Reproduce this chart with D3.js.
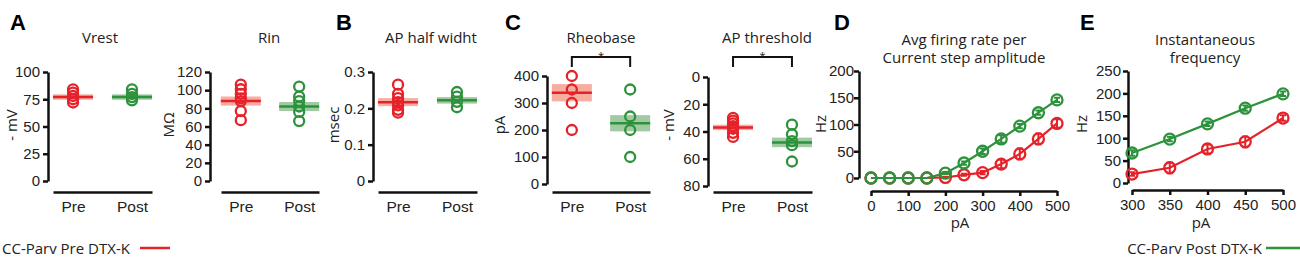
<head>
    <script src="https://d3js.org/d3.v7.min.js"></script>
    <style>
        body { margin: 0; background: #fff; }
        svg { font-family: "Open Sans", "Noto Sans", sans-serif; }
        .tick text { font-size: 15px; fill: #222; }
        .domain, .tick line { stroke: #111; stroke-width: 2.5px; }
    </style>
</head>
<body>
    <script>
        const groups = ['Pre', 'Post']

        const vrestPre = [84, 81, 78, 75, 72]
        const vrestPost = [84, 80, 77, 74]
        const vrestMean = [77, 77]
        const vrestSem = [2.5, 2.5]

        const rinPre = [106, 101, 96, 91, 88, 77, 67]
        const rinPost = [104, 93, 88, 82, 76, 66]
        const rinMean = [88, 82]
        const rinSem = [5, 5]

        const hwPre = [0.265, 0.24, 0.228, 0.217, 0.208, 0.196, 0.188]
        const hwPost = [0.245, 0.232, 0.218, 0.203]
        const hwMean = [0.217, 0.222]
        const hwSem = [0.011, 0.009]

        const rheoPre = [400, 350, 300, 200]
        const rheoPost = [350, 250, 200, 100]
        const rheoMean = [338, 225]
        const rheoSem = [32, 30]

        const thrPre = [30, 32, 34, 36, 38, 41, 44]
        const thrPost = [35, 42, 47, 50, 62]
        const thrMean = [37, 48]
        const thrSem = [2, 3.5]

        const stepsD = [0, 50, 100, 150, 200, 250, 300, 350, 400, 450, 500]
        const firingPre = [0, 0, 0, 0, 1, 6, 10, 26, 45, 73, 102]
        const firingPreErr = [0, 0, 0, 0, 1, 2, 3, 8, 10, 10, 8]
        const firingPost = [0, 0, 0, 0, 9, 28, 50, 73, 97, 122, 146]
        const firingPostErr = [0, 0, 0, 0, 2, 3, 5, 7, 4, 4, 4]

        const stepsE = [300, 350, 400, 450, 500]
        const instPre = [20, 34, 76, 92, 145]
        const instPreErr = [4, 12, 10, 12, 6]
        const instPost = [67, 98, 132, 167, 199]
        const instPostErr = [6, 5, 5, 6, 5]

        const red = '#e5222a'
        const green = '#2d923c'
        const redBand = 'rgba(240, 105, 80, 0.55)'
        const greenBand = 'rgba(70, 150, 70, 0.5)'

        const width = 1300
        const height = 271
        const svg = d3.select('body').append('svg').attr('width', width).attr('height', height)

        function txt(x, y, s, opts) {
            opts = opts || {}
            const t = svg.append('text')
                .attr('x', x).attr('y', y)
                .attr('text-anchor', opts.anchor || 'middle')
                .style('font-size', (opts.size || 15) + 'px')
                .style('fill', '#222')
                .text(s)
            if (opts.bold) t.style('font-weight', 'bold').style('font-family', 'Liberation Sans, Arial, sans-serif').style('fill', '#000')
            if (opts.rotate) t.attr('transform', 'rotate(-90,' + x + ',' + y + ')').attr('dy', '0.35em')
            return t
        }

        // scatter panel with mean line + sem band
        function dotPanel(p) {
            const y = d3.scaleLinear().domain(p.domain).range([p.y0, p.y1])
            const x = d3.scalePoint().domain(groups).range([p.x0, p.x1]).padding(0.34)

            svg.append('g')
                .attr('transform', 'translate(' + p.ax + ',0)')
                .call(d3.axisLeft(y).tickValues(p.ticks).tickSize(5).tickSizeOuter(0).tickPadding(3).tickFormat(p.fmt || d3.format('d')))

            const xa = svg.append('g')
                .attr('transform', 'translate(0,192)')
                .call(d3.axisBottom(x).tickSize(0).tickSizeOuter(0).tickPadding(9))
            xa.selectAll('.tick text').style('font-size', '15.5px')

            const sets = [[p.pre, red, redBand], [p.post, green, greenBand]]
            sets.forEach((s, i) => {
                const cx = x(groups[i])
                svg.append('rect')
                    .attr('x', cx - 20).attr('width', 40)
                    .attr('y', y(p.mean[i] + p.sem[i] * p.dir)).attr('height', Math.abs(y(p.mean[i] + p.sem[i]) - y(p.mean[i] - p.sem[i])))
                    .attr('fill', s[2])
                svg.append('line')
                    .attr('x1', cx - 20).attr('x2', cx + 20)
                    .attr('y1', y(p.mean[i])).attr('y2', y(p.mean[i]))
                    .attr('stroke', s[1]).attr('stroke-width', 2.5)
                svg.selectAll(null).data(s[0]).enter().append('circle')
                    .attr('cx', cx).attr('cy', d => y(d)).attr('r', 5)
                    .attr('fill', 'none').attr('stroke', s[1]).attr('stroke-width', 2.3)
            })

            txt(p.titleX, 43, p.title)
            txt(p.labX, 125, p.ylab, { rotate: true })
            if (p.sig) {
                svg.append('path')
                    .attr('d', 'M' + x('Pre') + ',67V57H' + x('Post') + 'V67')
                    .attr('fill', 'none').attr('stroke', '#111').attr('stroke-width', 2)
                txt((x('Pre') + x('Post')) / 2, 60, '*', { size: 11 })
            }
        }

        dotPanel({ domain: [0, 100], ticks: [0, 25, 50, 75, 100], y0: 181, y1: 72, ax: 48, x0: 53, x1: 152,
            pre: vrestPre, post: vrestPost, mean: vrestMean, sem: vrestSem, dir: 1,
            title: 'Vrest', titleX: 100, ylab: '- mV', labX: 12 })
        dotPanel({ domain: [0, 120], ticks: [0, 20, 40, 60, 80, 100, 120], y0: 181, y1: 72, ax: 210, x0: 221, x1: 319,
            pre: rinPre, post: rinPost, mean: rinMean, sem: rinSem, dir: 1,
            title: 'Rin', titleX: 269, ylab: 'MΩ', labX: 169 })
        dotPanel({ domain: [0, 0.3], ticks: [0, 0.1, 0.2, 0.3], y0: 181, y1: 72, ax: 373, x0: 378, x1: 477,
            pre: hwPre, post: hwPost, mean: hwMean, sem: hwSem, dir: 1, fmt: d => d === 0 ? '0' : d3.format('.1f')(d),
            title: 'AP half widht', titleX: 431, ylab: 'msec', labX: 334 })
        dotPanel({ domain: [0, 400], ticks: [0, 100, 200, 300, 400], y0: 184, y1: 76, ax: 547, x0: 552, x1: 650,
            pre: rheoPre, post: rheoPost, mean: rheoMean, sem: rheoSem, dir: 1, sig: true,
            title: 'Rheobase', titleX: 601, ylab: 'pA', labX: 500 })
        dotPanel({ domain: [0, 80], ticks: [0, 20, 40, 60, 80], y0: 77, y1: 186, ax: 708, x0: 713, x1: 812,
            pre: thrPre, post: thrPost, mean: thrMean, sem: thrSem, dir: -1, sig: true,
            title: 'AP threshold', titleX: 767, ylab: '- mV', labX: 669 })

        // line panels with error bars
        function linePanel(p) {
            const x = d3.scaleLinear().domain(p.xdom).range([p.x0, p.x1])
            const y = d3.scaleLinear().domain(p.ydom).range([p.y0, p.y1])
            svg.append('g')
                .attr('transform', 'translate(' + p.ax + ',0)')
                .call(d3.axisLeft(y).tickValues(p.yticks).tickSize(5).tickSizeOuter(0).tickPadding(p.pad))
            svg.append('g')
                .attr('transform', 'translate(0,' + p.axy + ')')
                .call(d3.axisBottom(x).tickValues(p.xticks).tickSize(5).tickSizeOuter(0).tickPadding(4))
            const line = d3.line().x(d => x(d[0])).y(d => y(d[1]))
            p.series.forEach(s => {
                const pts = p.steps.map((v, i) => [v, s.vals[i], s.err[i]])
                svg.append('path').attr('d', line(pts))
                    .attr('fill', 'none').attr('stroke', s.color).attr('stroke-width', 2.2)
                const g = svg.append('g').selectAll(null).data(pts).enter().append('g')
                g.filter(d => d[2] > 0).append('path')
                    .attr('d', d => 'M' + (x(d[0]) - 3) + ',' + y(d[1] + d[2]) + 'h6M' + x(d[0]) + ',' + y(d[1] + d[2]) + 'V' + y(d[1] - d[2]) + 'M' + (x(d[0]) - 3) + ',' + y(d[1] - d[2]) + 'h6')
                    .attr('stroke', s.color).attr('stroke-width', 2).attr('fill', 'none')
                g.append('circle')
                    .attr('cx', d => x(d[0])).attr('cy', d => y(d[1])).attr('r', 5.5)
                    .attr('fill', 'none').attr('stroke', s.color).attr('stroke-width', 2.3)
            })
            p.title.forEach((t, i) => txt(p.titleX, 45 + i * 18, t))
            txt(p.titleX - 4, 228, 'pA')
            txt(p.labX, 124, 'Hz', { rotate: true })
        }

        linePanel({ xdom: [0, 500], x0: 871, x1: 1057, ydom: [0, 200], y0: 178, y1: 71, ax: 859, axy: 191, pad: 0,
            xticks: [0, 100, 200, 300, 400, 500], yticks: [0, 50, 100, 150, 200], steps: stepsD,
            series: [{ vals: firingPre, err: firingPreErr, color: red }, { vals: firingPost, err: firingPostErr, color: green }],
            title: ['Avg firing rate per', 'Current step amplitude'], titleX: 964, labX: 821 })
        linePanel({ xdom: [300, 500], x0: 1132, x1: 1283, ydom: [0, 250], y0: 183, y1: 71, ax: 1128, axy: 190, pad: 2,
            xticks: [300, 350, 400, 450, 500], yticks: [0, 50, 100, 150, 200, 250], steps: stepsE,
            series: [{ vals: instPre, err: instPreErr, color: red }, { vals: instPost, err: instPostErr, color: green }],
            title: ['Instantaneous', 'frequency'], titleX: 1205, labX: 1082 })

        // panel letters
        const letters = [['A', 10], ['B', 336], ['C', 505], ['D', 834], ['E', 1080]]
        letters.forEach(l => txt(l[1], 30, l[0], { anchor: 'start', bold: true, size: 22 }))

        // legends
        txt(2, 254, 'CC-Parv Pre DTX-K', { anchor: 'start' })
        svg.append('line').attr('x1', 140).attr('x2', 170).attr('y1', 248).attr('y2', 248).attr('stroke', red).attr('stroke-width', 2.5)
        txt(1262, 254, 'CC-Parv Post DTX-K', { anchor: 'end' })
        svg.append('line').attr('x1', 1266).attr('x2', 1300).attr('y1', 248).attr('y2', 248).attr('stroke', green).attr('stroke-width', 2.5)
    </script>
</body>
